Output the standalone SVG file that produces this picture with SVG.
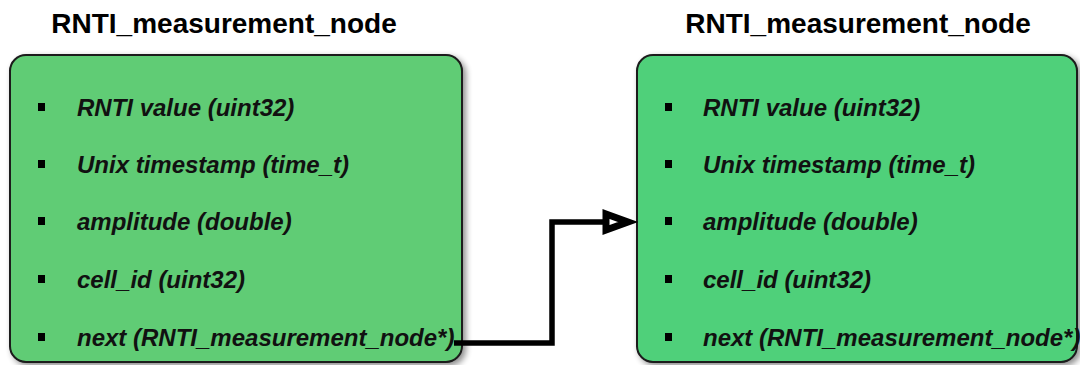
<svg xmlns="http://www.w3.org/2000/svg" width="1080" height="365" viewBox="0 0 1080 365">
  <defs>
    <filter id="shadow" x="-5%" y="-5%" width="115%" height="115%">
      <feGaussianBlur in="SourceAlpha" stdDeviation="3"/>
      <feOffset dx="3" dy="3" result="b"/>
      <feComponentTransfer><feFuncA type="linear" slope="0.45"/></feComponentTransfer>
      <feMerge><feMergeNode/><feMergeNode in="SourceGraphic"/></feMerge>
    </filter>
  </defs>
  <style>
    .title { font-family: "Liberation Sans", Arial, sans-serif; font-weight: bold; font-size: 28px; fill: #000; }
    .item { font-family: "Liberation Sans", Arial, sans-serif; font-weight: bold; font-style: italic; font-size: 24px; fill: #111; }
    .box { stroke: #1a1a1a; stroke-width: 2; }
    .bullet { fill: #000; }
    .wire { fill: none; stroke: #000; stroke-width: 5.5; stroke-linejoin: miter; }
    .head { fill: #fff; stroke: #000; stroke-width: 7; stroke-linejoin: miter; }
  </style>

  <!-- first list node -->
  <g id="node1">
    <text class="title" x="224" y="33" text-anchor="middle">RNTI_measurement_node</text>
    <rect class="box" x="10" y="55" width="452" height="307" rx="16" fill="#60cc74" filter="url(#shadow)"/>
    <rect class="bullet" x="38" y="103" width="7" height="8"/>
    <text class="item" x="77" y="116">RNTI value (uint32)</text>
    <rect class="bullet" x="38" y="160" width="7" height="8"/>
    <text class="item" x="77" y="173">Unix timestamp (time_t)</text>
    <rect class="bullet" x="38" y="217" width="7" height="8"/>
    <text class="item" x="77" y="230">amplitude (double)</text>
    <rect class="bullet" x="38" y="275" width="7" height="8"/>
    <text class="item" x="77" y="288">cell_id (uint32)</text>
    <rect class="bullet" x="38" y="333" width="7" height="8"/>
    <text class="item" x="77" y="346">next (RNTI_measurement_node*)</text>
  </g>

  <!-- second list node -->
  <g id="node2">
    <text class="title" x="858" y="33" text-anchor="middle">RNTI_measurement_node</text>
    <rect class="box" x="637" y="55" width="440" height="307" rx="16" fill="#50d07a" filter="url(#shadow)"/>
    <rect class="bullet" x="665" y="103" width="7" height="8"/>
    <text class="item" x="703" y="116">RNTI value (uint32)</text>
    <rect class="bullet" x="665" y="160" width="7" height="8"/>
    <text class="item" x="703" y="173">Unix timestamp (time_t)</text>
    <rect class="bullet" x="665" y="217" width="7" height="8"/>
    <text class="item" x="703" y="230">amplitude (double)</text>
    <rect class="bullet" x="665" y="275" width="7" height="8"/>
    <text class="item" x="703" y="288">cell_id (uint32)</text>
    <rect class="bullet" x="665" y="333" width="7" height="8"/>
    <text class="item" x="703" y="346">next (RNTI_measurement_node*)</text>
  </g>

  <!-- next pointer -->
  <g id="connectors">
    <path class="wire" d="M454,343 H552 V222 H606"/>
    <path class="head" d="M606,214 L628,222 L606,230 Z"/>
  </g>
</svg>
